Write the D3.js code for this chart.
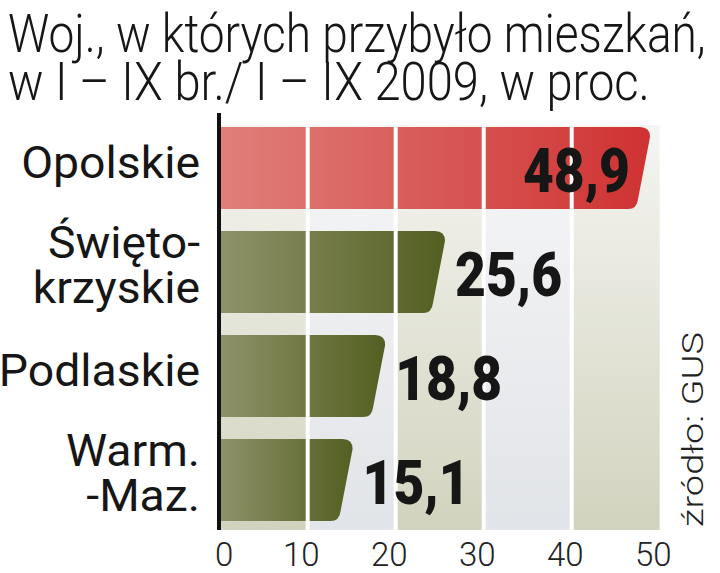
<!DOCTYPE html>
<html><head><meta charset="utf-8">
<script src="https://cdn.jsdelivr.net/npm/d3@7"></script>
<style>body{margin:0;background:#fff}svg{display:block}</style>
</head><body>
<svg id="c" width="720" height="573"></svg>
<script>
const titleLines = ["Woj., w których przybyło mieszkań,", "w I – IX br./ I – IX 2009, w proc."];
const categories = ["Opolskie", "Świętokrzyskie", "Podlaskie", "Warm.-Maz."];
const categoryLabels = [["Opolskie"], ["Święto-", "krzyskie"], ["Podlaskie"], ["Warm.", "-Maz."]];
const values = [48.9, 25.6, 18.8, 15.1];
const valueLabels = ["48,9", "25,6", "18,8", "15,1"];
const ticks = [0, 10, 20, 30, 40, 50];
const source = "źródło: GUS";

const svg = d3.select("#c");
const defs = svg.append("defs");

const x = d3.scaleLinear().domain([0, 50]).range([219.7, 659.7]);
const y = d3.scaleBand().domain(categories).range([127, 521]).paddingInner(0.2115).paddingOuter(0);
const plotTop = 125, plotBottom = 530;

function vgrad(id, top, bottom){
  const g = defs.append("linearGradient").attr("id", id).attr("x1",0).attr("y1",0).attr("x2",0).attr("y2",1);
  g.append("stop").attr("offset","0%").attr("stop-color",top);
  g.append("stop").attr("offset","100%").attr("stop-color",bottom);
}
vgrad("bgA", "#f5f5f2", "#d2d3be");
vgrad("bgB", "#f6f6f7", "#e1e4e8");
function hgrad(id, left, right){
  const g = defs.append("linearGradient").attr("id", id).attr("x1",0).attr("y1",0).attr("x2",1).attr("y2",0);
  g.append("stop").attr("offset","0%").attr("stop-color",left);
  g.append("stop").attr("offset","100%").attr("stop-color",right);
}
hgrad("red", "#e07f7a", "#cf3232");
hgrad("olive", "#8f9269", "#535f21");

// background stripes
const stripes = d3.range(0, 50, 10);
svg.append("g").selectAll("rect").data(stripes).join("rect")
  .attr("x", d => x(d)).attr("width", d => x(d + 10) - x(d))
  .attr("y", plotTop).attr("height", plotBottom - plotTop)
  .attr("fill", (d, i) => i % 2 === 0 ? "url(#bgA)" : "url(#bgB)");

// bars
function barPath(v, cat){
  const x0 = x(0), x1 = x(v), y0 = y(cat), y1 = y(cat) + y.bandwidth();
  const r = 10, s = 12;
  return `M${x0},${y0}H${x1 - r}Q${x1},${y0} ${x1},${y0 + r}L${x1 - s},${y1 - r}Q${x1 - s - 1},${y1} ${x1 - s - r},${y1}H${x0}Z`;
}
svg.append("g").selectAll("path").data(values).join("path")
  .attr("d", (d, i) => barPath(d, categories[i]))
  .attr("fill", (d, i) => i === 0 ? "url(#red)" : "url(#olive)");

// gridlines
svg.append("g").selectAll("line").data(ticks.filter(t => t > 0 && t < 50)).join("line")
  .attr("x1", d => x(d)).attr("x2", d => x(d))
  .attr("y1", plotTop).attr("y2", plotBottom)
  .attr("stroke", "#fff").attr("stroke-width", 4);

// helper: horizontally scale a text element around its anchor x
function squeeze(sel, ax, ay, factor){
  sel.attr("transform", `translate(${ax},${ay}) scale(${factor},1) translate(${-ax},${-ay})`);
}

// value labels
svg.append("g").selectAll("text").data(values).join("text")
  .attr("x", (d, i) => i === 0 ? x(d) - 20 : x(d) + 10)
  .attr("y", (d, i) => y(categories[i]) + y.bandwidth() / 2 + 24)
  .attr("text-anchor", (d, i) => i === 0 ? "end" : "start")
  .attr("font-family", "Roboto, sans-serif").attr("font-weight", 900)
  .attr("font-size", 62).attr("fill", "#161616")
  .text((d, i) => valueLabels[i])
  .each(function(){
    const s = d3.select(this);
    squeeze(s, +s.attr("x"), +s.attr("y"), 0.86);
  });

// category labels
svg.append("g").selectAll("text").data(categories).join("text")
  .attr("text-anchor", "end")
  .attr("font-family", "Roboto, sans-serif").attr("font-size", 45).attr("fill", "#161616")
  .each(function(cat, i){
    const lines = categoryLabels[i];
    const c = y(cat) + y.bandwidth() / 2;
    const base = lines.length === 1 ? [c + 10] : [c - 14, c + 31];
    d3.select(this).selectAll("tspan").data(lines).join("tspan")
      .attr("x", 200).attr("y", (d, j) => base[j]).text(d => d);
    squeeze(d3.select(this), 200, c, 1.03);
  });

// axis line
svg.append("line").attr("x1", 219).attr("x2", 219).attr("y1", 113).attr("y2", plotBottom)
  .attr("stroke", "#111").attr("stroke-width", 4);

// x axis tick labels
const ax = svg.append("g").attr("transform", `translate(0,${plotBottom})`)
  .call(d3.axisBottom(x).tickValues(ticks).tickSize(0).tickPadding(0).tickFormat(d3.format("d")));
ax.select(".domain").remove();
ax.selectAll("text")
  .attr("font-family", "Roboto, sans-serif").attr("font-weight", 300).attr("font-size", 33)
  .attr("fill", "#222").attr("dy", null).attr("y", 36)
  .attr("dx", d => d === 0 ? 4 : -7);

// title
const titleWidths = [698, 642];
svg.append("g").selectAll("text").data(titleLines).join("text")
  .attr("x", 8).attr("y", (d, i) => 52 + i * 48)
  .attr("font-family", "Roboto, sans-serif").attr("font-weight", 300)
  .attr("font-size", 54).attr("fill", "#161616")
  .text(d => d)
  .each(function(d, i){
    const w = this.getComputedTextLength();
    squeeze(d3.select(this), 8, 52 + i * 48, titleWidths[i] / w);
  });

// source
const src = svg.append("text").attr("x", 0).attr("y", 0)
  .attr("font-family", "Roboto, sans-serif").attr("font-weight", 300)
  .attr("font-size", 30).attr("fill", "#222")
  .text(source);
const sw = src.node().getComputedTextLength();
src.attr("transform", `translate(703,527) rotate(-90) scale(${195 / sw},1)`);
</script>
</body></html>
